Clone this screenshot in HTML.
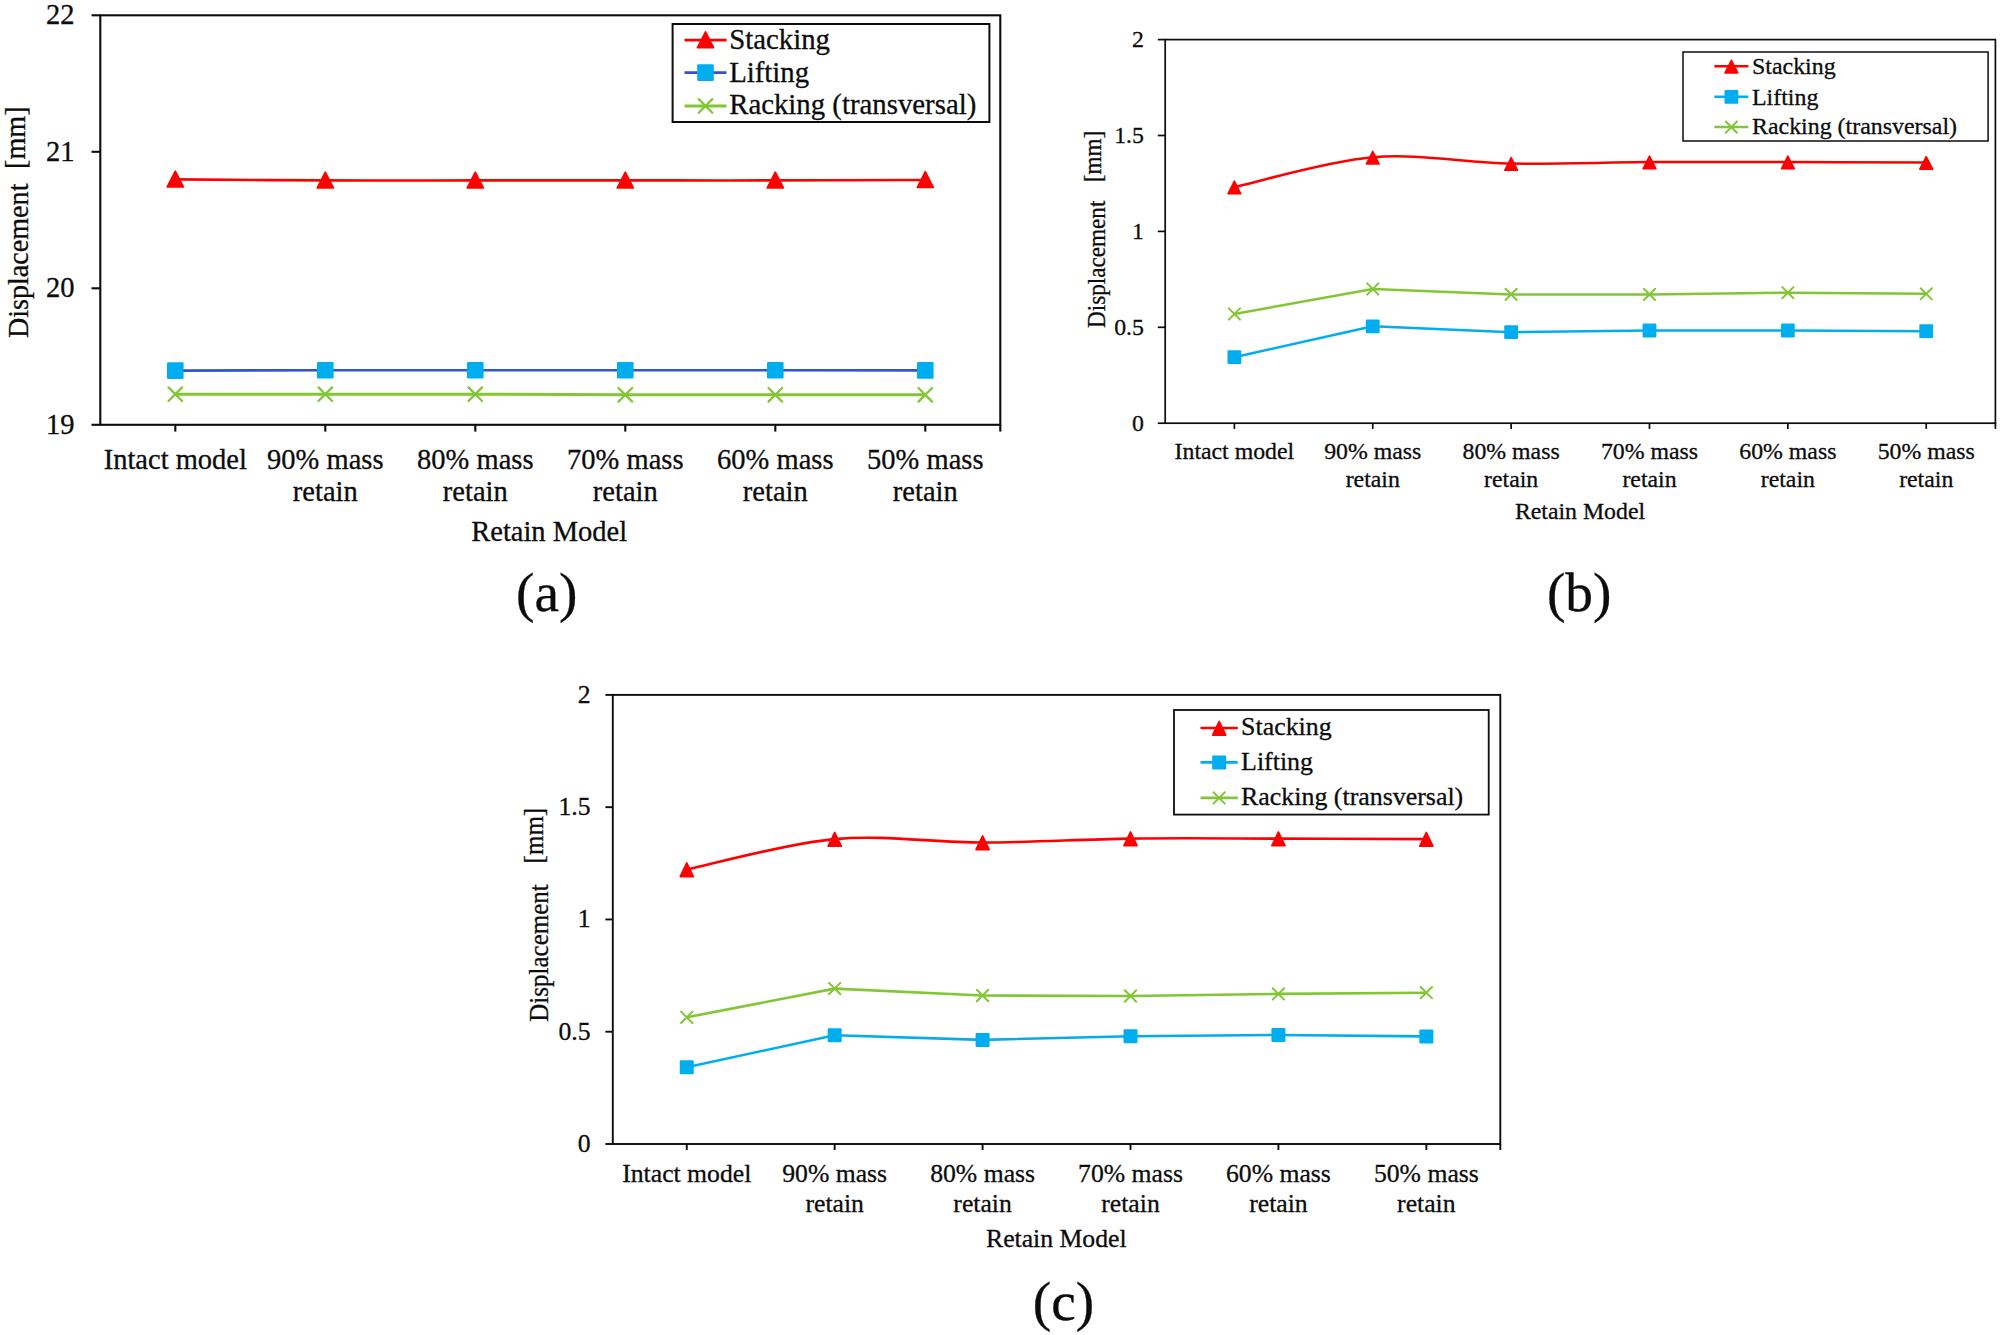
<!DOCTYPE html>
<html lang="en">
<head>
<meta charset="utf-8">
<title>Displacement vs retain model</title>
<style>
html,body{margin:0;padding:0;background:#fff;}
body{width:2000px;height:1335px;overflow:hidden;}
svg{display:block;}
svg text{font-family:"Liberation Serif",serif;fill:#0c0c0c;stroke:#0c0c0c;stroke-width:0.3px;}
</style>
</head>
<body>
<svg width="2000" height="1335" viewBox="0 0 2000 1335">
<rect x="0" y="0" width="2000" height="1335" fill="#ffffff"/>
<g font-size="28.5">
<rect x="100.3" y="15.3" width="900" height="409.5" fill="none" stroke="#0c0c0c" stroke-width="2.1"/>
<path d="M91.5,15.3 H100.3" stroke="#0c0c0c" stroke-width="2.1"/>
<text x="74.5" y="24" text-anchor="end">22</text>
<path d="M91.5,151.8 H100.3" stroke="#0c0c0c" stroke-width="2.1"/>
<text x="74.5" y="160.5" text-anchor="end">21</text>
<path d="M91.5,288.3 H100.3" stroke="#0c0c0c" stroke-width="2.1"/>
<text x="74.5" y="297" text-anchor="end">20</text>
<path d="M91.5,424.8 H100.3" stroke="#0c0c0c" stroke-width="2.1"/>
<text x="74.5" y="433.5" text-anchor="end">19</text>
<path d="M175.3,424.8 V431.6" stroke="#0c0c0c" stroke-width="2.1"/>
<text x="175.3" y="468.5" text-anchor="middle">Intact model</text>
<path d="M325.3,424.8 V431.6" stroke="#0c0c0c" stroke-width="2.1"/>
<text x="325.3" y="468.5" text-anchor="middle">90% mass</text>
<text x="325.3" y="500.9" text-anchor="middle">retain</text>
<path d="M475.3,424.8 V431.6" stroke="#0c0c0c" stroke-width="2.1"/>
<text x="475.3" y="468.5" text-anchor="middle">80% mass</text>
<text x="475.3" y="500.9" text-anchor="middle">retain</text>
<path d="M625.3,424.8 V431.6" stroke="#0c0c0c" stroke-width="2.1"/>
<text x="625.3" y="468.5" text-anchor="middle">70% mass</text>
<text x="625.3" y="500.9" text-anchor="middle">retain</text>
<path d="M775.3,424.8 V431.6" stroke="#0c0c0c" stroke-width="2.1"/>
<text x="775.3" y="468.5" text-anchor="middle">60% mass</text>
<text x="775.3" y="500.9" text-anchor="middle">retain</text>
<path d="M925.3,424.8 V431.6" stroke="#0c0c0c" stroke-width="2.1"/>
<text x="925.3" y="468.5" text-anchor="middle">50% mass</text>
<text x="925.3" y="500.9" text-anchor="middle">retain</text>
<path d="M1000.3,424.8 V431.6" stroke="#0c0c0c" stroke-width="2.1"/>
<text x="549.2" y="540.8" text-anchor="middle">Retain Model</text>
<text transform="translate(28.4,338.1) rotate(-90) scale(0.96,1)" font-size="29.3" style="white-space:pre">Displacement  <tspan dx="0.6" dy="-3.3">[mm]</tspan></text>
<path d="M175.3,179.4 C200.3,179.57 275.3,180.23 325.3,180.4 C375.3,180.57 425.3,180.4 475.3,180.4 C525.3,180.4 575.3,180.4 625.3,180.4 C675.3,180.4 725.3,180.47 775.3,180.4 C825.3,180.33 900.3,180.07 925.3,180" fill="none" stroke="#FF0000" stroke-width="2.6" stroke-linejoin="round"/>
<path d="M175.3,370.6 L325.3,370.2 L475.3,370.2 L625.3,370.2 L775.3,370.2 L925.3,370.4" fill="none" stroke="#3157C4" stroke-width="2.6" stroke-linejoin="round"/>
<path d="M175.3,394.2 L325.3,394.2 L475.3,394.2 L625.3,394.8 L775.3,394.8 L925.3,394.8" fill="none" stroke="#82C636" stroke-width="3" stroke-linejoin="round"/>
<path d="M175.3,171.1 L183.4,186.9 L167.2,186.9 Z" fill="#FF0000" stroke="#FF0000" stroke-width="1.6" stroke-linejoin="round"/>
<path d="M325.3,172.1 L333.4,187.9 L317.2,187.9 Z" fill="#FF0000" stroke="#FF0000" stroke-width="1.6" stroke-linejoin="round"/>
<path d="M475.3,172.1 L483.4,187.9 L467.2,187.9 Z" fill="#FF0000" stroke="#FF0000" stroke-width="1.6" stroke-linejoin="round"/>
<path d="M625.3,172.1 L633.4,187.9 L617.2,187.9 Z" fill="#FF0000" stroke="#FF0000" stroke-width="1.6" stroke-linejoin="round"/>
<path d="M775.3,172.1 L783.4,187.9 L767.2,187.9 Z" fill="#FF0000" stroke="#FF0000" stroke-width="1.6" stroke-linejoin="round"/>
<path d="M925.3,171.7 L933.4,187.5 L917.2,187.5 Z" fill="#FF0000" stroke="#FF0000" stroke-width="1.6" stroke-linejoin="round"/>
<rect x="167" y="362.3" width="16.6" height="16.6" rx="1.2" fill="#00AEEF"/>
<rect x="317" y="361.9" width="16.6" height="16.6" rx="1.2" fill="#00AEEF"/>
<rect x="467" y="361.9" width="16.6" height="16.6" rx="1.2" fill="#00AEEF"/>
<rect x="617" y="361.9" width="16.6" height="16.6" rx="1.2" fill="#00AEEF"/>
<rect x="767" y="361.9" width="16.6" height="16.6" rx="1.2" fill="#00AEEF"/>
<rect x="917" y="362.1" width="16.6" height="16.6" rx="1.2" fill="#00AEEF"/>
<path d="M168.5,387.4 L182.1,401 M168.5,401 L182.1,387.4" stroke="#82C636" stroke-width="2.3" fill="none" stroke-linecap="round"/>
<path d="M318.5,387.4 L332.1,401 M318.5,401 L332.1,387.4" stroke="#82C636" stroke-width="2.3" fill="none" stroke-linecap="round"/>
<path d="M468.5,387.4 L482.1,401 M468.5,401 L482.1,387.4" stroke="#82C636" stroke-width="2.3" fill="none" stroke-linecap="round"/>
<path d="M618.5,388 L632.1,401.6 M618.5,401.6 L632.1,388" stroke="#82C636" stroke-width="2.3" fill="none" stroke-linecap="round"/>
<path d="M768.5,388 L782.1,401.6 M768.5,401.6 L782.1,388" stroke="#82C636" stroke-width="2.3" fill="none" stroke-linecap="round"/>
<path d="M918.5,388 L932.1,401.6 M918.5,401.6 L932.1,388" stroke="#82C636" stroke-width="2.3" fill="none" stroke-linecap="round"/>
<rect x="672.6" y="24" width="316.8" height="98" fill="#fff" stroke="#0c0c0c" stroke-width="2"/>
<path d="M684.5,40.1 H726.5" stroke="#FF0000" stroke-width="2.6"/>
<path d="M705.5,31.8 L713.6,47.6 L697.4,47.6 Z" fill="#FF0000" stroke="#FF0000" stroke-width="1.6" stroke-linejoin="round"/>
<text x="729.2" y="48.9" font-size="28.8">Stacking</text>
<path d="M684.5,72.6 H726.5" stroke="#3157C4" stroke-width="2.6"/>
<rect x="697.2" y="64.3" width="16.6" height="16.6" rx="1.2" fill="#00AEEF"/>
<text x="729.2" y="81.8" font-size="28.8">Lifting</text>
<path d="M684.5,105.9 H726.5" stroke="#82C636" stroke-width="3"/>
<path d="M698.7,99.1 L712.3,112.7 M698.7,112.7 L712.3,99.1" stroke="#82C636" stroke-width="2.3" fill="none" stroke-linecap="round"/>
<text x="729.2" y="114.2" font-size="28.8">Racking (transversal)</text>
<text x="546.8" y="611.3" font-size="55.3" text-anchor="middle">(a)</text>
</g>
<g font-size="23.8">
<rect x="1165.2" y="39.6" width="830.2" height="383.6" fill="none" stroke="#0c0c0c" stroke-width="1.7"/>
<path d="M1157.8,39.6 H1165.2" stroke="#0c0c0c" stroke-width="1.7"/>
<text x="1143.9" y="46.9" text-anchor="end">2</text>
<path d="M1157.8,135.5 H1165.2" stroke="#0c0c0c" stroke-width="1.7"/>
<text x="1143.9" y="142.8" text-anchor="end">1.5</text>
<path d="M1157.8,231.4 H1165.2" stroke="#0c0c0c" stroke-width="1.7"/>
<text x="1143.9" y="238.7" text-anchor="end">1</text>
<path d="M1157.8,327.3 H1165.2" stroke="#0c0c0c" stroke-width="1.7"/>
<text x="1143.9" y="334.6" text-anchor="end">0.5</text>
<path d="M1157.8,423.2 H1165.2" stroke="#0c0c0c" stroke-width="1.7"/>
<text x="1143.9" y="430.5" text-anchor="end">0</text>
<path d="M1234.38,423.2 V428.9" stroke="#0c0c0c" stroke-width="1.7"/>
<text x="1234.38" y="458.6" text-anchor="middle">Intact model</text>
<path d="M1372.75,423.2 V428.9" stroke="#0c0c0c" stroke-width="1.7"/>
<text x="1372.75" y="458.6" text-anchor="middle">90% mass</text>
<text x="1372.75" y="486.7" text-anchor="middle">retain</text>
<path d="M1511.12,423.2 V428.9" stroke="#0c0c0c" stroke-width="1.7"/>
<text x="1511.12" y="458.6" text-anchor="middle">80% mass</text>
<text x="1511.12" y="486.7" text-anchor="middle">retain</text>
<path d="M1649.48,423.2 V428.9" stroke="#0c0c0c" stroke-width="1.7"/>
<text x="1649.48" y="458.6" text-anchor="middle">70% mass</text>
<text x="1649.48" y="486.7" text-anchor="middle">retain</text>
<path d="M1787.85,423.2 V428.9" stroke="#0c0c0c" stroke-width="1.7"/>
<text x="1787.85" y="458.6" text-anchor="middle">60% mass</text>
<text x="1787.85" y="486.7" text-anchor="middle">retain</text>
<path d="M1926.22,423.2 V428.9" stroke="#0c0c0c" stroke-width="1.7"/>
<text x="1926.22" y="458.6" text-anchor="middle">50% mass</text>
<text x="1926.22" y="486.7" text-anchor="middle">retain</text>
<path d="M1995.4,423.2 V428.9" stroke="#0c0c0c" stroke-width="1.7"/>
<text x="1580" y="519" text-anchor="middle">Retain Model</text>
<text transform="translate(1105,328) rotate(-90) scale(0.95,1)" font-size="24.4" style="white-space:pre">Displacement  <tspan dx="7.2" dy="-4">[mm]</tspan></text>
<path d="M1234.38,187.1 C1257.44,182.13 1326.63,161.22 1372.75,157.3 C1418.87,153.38 1464.99,162.8 1511.12,163.6 C1557.24,164.4 1603.36,162.35 1649.48,162.1 C1695.61,161.85 1741.73,162.03 1787.85,162.1 C1833.97,162.17 1903.16,162.43 1926.22,162.5" fill="none" stroke="#FF0000" stroke-width="2.5" stroke-linejoin="round"/>
<path d="M1234.38,357.2 L1372.75,326.3 L1511.12,332.2 L1649.48,330.5 L1787.85,330.5 L1926.22,331.2" fill="none" stroke="#00AEEF" stroke-width="2.5" stroke-linejoin="round"/>
<path d="M1234.38,314 L1372.75,289 L1511.12,294.4 L1649.48,294.4 L1787.85,292.7 L1926.22,293.8" fill="none" stroke="#82C636" stroke-width="2.5" stroke-linejoin="round"/>
<path d="M1234.38,181.2 L1240.78,193.8 L1227.98,193.8 Z" fill="#FF0000" stroke="#FF0000" stroke-width="1.6" stroke-linejoin="round"/>
<path d="M1372.75,151.4 L1379.15,164 L1366.35,164 Z" fill="#FF0000" stroke="#FF0000" stroke-width="1.6" stroke-linejoin="round"/>
<path d="M1511.12,157.7 L1517.52,170.3 L1504.72,170.3 Z" fill="#FF0000" stroke="#FF0000" stroke-width="1.6" stroke-linejoin="round"/>
<path d="M1649.48,156.2 L1655.88,168.8 L1643.08,168.8 Z" fill="#FF0000" stroke="#FF0000" stroke-width="1.6" stroke-linejoin="round"/>
<path d="M1787.85,156.2 L1794.25,168.8 L1781.45,168.8 Z" fill="#FF0000" stroke="#FF0000" stroke-width="1.6" stroke-linejoin="round"/>
<path d="M1926.22,156.6 L1932.62,169.2 L1919.82,169.2 Z" fill="#FF0000" stroke="#FF0000" stroke-width="1.6" stroke-linejoin="round"/>
<rect x="1227.48" y="350.3" width="13.8" height="13.8" rx="1.2" fill="#00AEEF"/>
<rect x="1365.85" y="319.4" width="13.8" height="13.8" rx="1.2" fill="#00AEEF"/>
<rect x="1504.22" y="325.3" width="13.8" height="13.8" rx="1.2" fill="#00AEEF"/>
<rect x="1642.58" y="323.6" width="13.8" height="13.8" rx="1.2" fill="#00AEEF"/>
<rect x="1780.95" y="323.6" width="13.8" height="13.8" rx="1.2" fill="#00AEEF"/>
<rect x="1919.32" y="324.3" width="13.8" height="13.8" rx="1.2" fill="#00AEEF"/>
<path d="M1228.78,308.4 L1239.98,319.6 M1228.78,319.6 L1239.98,308.4" stroke="#82C636" stroke-width="2" fill="none" stroke-linecap="round"/>
<path d="M1367.15,283.4 L1378.35,294.6 M1367.15,294.6 L1378.35,283.4" stroke="#82C636" stroke-width="2" fill="none" stroke-linecap="round"/>
<path d="M1505.52,288.8 L1516.72,300 M1505.52,300 L1516.72,288.8" stroke="#82C636" stroke-width="2" fill="none" stroke-linecap="round"/>
<path d="M1643.88,288.8 L1655.08,300 M1643.88,300 L1655.08,288.8" stroke="#82C636" stroke-width="2" fill="none" stroke-linecap="round"/>
<path d="M1782.25,287.1 L1793.45,298.3 M1782.25,298.3 L1793.45,287.1" stroke="#82C636" stroke-width="2" fill="none" stroke-linecap="round"/>
<path d="M1920.62,288.2 L1931.82,299.4 M1920.62,299.4 L1931.82,288.2" stroke="#82C636" stroke-width="2" fill="none" stroke-linecap="round"/>
<rect x="1683" y="52" width="305.1" height="89" fill="#fff" stroke="#0c0c0c" stroke-width="1.5"/>
<path d="M1714.4,66.2 H1748.4" stroke="#FF0000" stroke-width="2.5"/>
<path d="M1731.4,60.3 L1737.8,72.9 L1725,72.9 Z" fill="#FF0000" stroke="#FF0000" stroke-width="1.6" stroke-linejoin="round"/>
<text x="1752" y="74.4" font-size="23.9">Stacking</text>
<path d="M1714.4,96.8 H1748.4" stroke="#00AEEF" stroke-width="2.5"/>
<rect x="1724.5" y="89.9" width="13.8" height="13.8" rx="1.2" fill="#00AEEF"/>
<text x="1752" y="104.5" font-size="23.9">Lifting</text>
<path d="M1714.4,127.1 H1748.4" stroke="#82C636" stroke-width="2.5"/>
<path d="M1725.8,121.5 L1737,132.7 M1725.8,132.7 L1737,121.5" stroke="#82C636" stroke-width="2" fill="none" stroke-linecap="round"/>
<text x="1752" y="134.2" font-size="23.9">Racking (transversal)</text>
<text x="1579.2" y="611.3" font-size="55.3" text-anchor="middle">(b)</text>
</g>
<g font-size="25.7">
<rect x="612.8" y="694.9" width="887.5" height="449.1" fill="none" stroke="#0c0c0c" stroke-width="1.9"/>
<path d="M605.4,694.9 H612.8" stroke="#0c0c0c" stroke-width="1.9"/>
<text x="590.6" y="702.7" text-anchor="end">2</text>
<path d="M605.4,807.17 H612.8" stroke="#0c0c0c" stroke-width="1.9"/>
<text x="590.6" y="814.97" text-anchor="end">1.5</text>
<path d="M605.4,919.45 H612.8" stroke="#0c0c0c" stroke-width="1.9"/>
<text x="590.6" y="927.25" text-anchor="end">1</text>
<path d="M605.4,1031.72 H612.8" stroke="#0c0c0c" stroke-width="1.9"/>
<text x="590.6" y="1039.52" text-anchor="end">0.5</text>
<path d="M605.4,1144 H612.8" stroke="#0c0c0c" stroke-width="1.9"/>
<text x="590.6" y="1151.8" text-anchor="end">0</text>
<path d="M686.76,1144 V1150" stroke="#0c0c0c" stroke-width="1.9"/>
<text x="686.76" y="1182.4" text-anchor="middle">Intact model</text>
<path d="M834.67,1144 V1150" stroke="#0c0c0c" stroke-width="1.9"/>
<text x="834.67" y="1182.4" text-anchor="middle">90% mass</text>
<text x="834.67" y="1211.8" text-anchor="middle">retain</text>
<path d="M982.59,1144 V1150" stroke="#0c0c0c" stroke-width="1.9"/>
<text x="982.59" y="1182.4" text-anchor="middle">80% mass</text>
<text x="982.59" y="1211.8" text-anchor="middle">retain</text>
<path d="M1130.51,1144 V1150" stroke="#0c0c0c" stroke-width="1.9"/>
<text x="1130.51" y="1182.4" text-anchor="middle">70% mass</text>
<text x="1130.51" y="1211.8" text-anchor="middle">retain</text>
<path d="M1278.42,1144 V1150" stroke="#0c0c0c" stroke-width="1.9"/>
<text x="1278.42" y="1182.4" text-anchor="middle">60% mass</text>
<text x="1278.42" y="1211.8" text-anchor="middle">retain</text>
<path d="M1426.34,1144 V1150" stroke="#0c0c0c" stroke-width="1.9"/>
<text x="1426.34" y="1182.4" text-anchor="middle">50% mass</text>
<text x="1426.34" y="1211.8" text-anchor="middle">retain</text>
<path d="M1500.3,1144 V1150" stroke="#0c0c0c" stroke-width="1.9"/>
<text x="1056.3" y="1246.6" text-anchor="middle">Retain Model</text>
<text transform="translate(547.9,1021.7) rotate(-90) scale(0.94,1)" font-size="26.6" style="white-space:pre">Displacement  <tspan dx="9" dy="-4.6">[mm]</tspan></text>
<path d="M686.76,869.5 C711.41,864.43 785.37,843.6 834.67,839.1 C883.98,834.6 933.29,842.58 982.59,842.5 C1031.9,842.42 1081.2,839.25 1130.51,838.6 C1179.81,837.95 1229.12,838.52 1278.42,838.6 C1327.73,838.68 1401.69,839.02 1426.34,839.1" fill="none" stroke="#FF0000" stroke-width="2.6" stroke-linejoin="round"/>
<path d="M686.76,1067.2 L834.67,1035.3 L982.59,1039.9 L1130.51,1036.2 L1278.42,1035 L1426.34,1036.4" fill="none" stroke="#00AEEF" stroke-width="2.6" stroke-linejoin="round"/>
<path d="M686.76,1017.3 L834.67,988.6 L982.59,995.5 L1130.51,996 L1278.42,993.9 L1426.34,992.7" fill="none" stroke="#82C636" stroke-width="2.6" stroke-linejoin="round"/>
<path d="M686.76,862.8 L693.36,876.6 L680.16,876.6 Z" fill="#FF0000" stroke="#FF0000" stroke-width="1.6" stroke-linejoin="round"/>
<path d="M834.67,832.4 L841.27,846.2 L828.07,846.2 Z" fill="#FF0000" stroke="#FF0000" stroke-width="1.6" stroke-linejoin="round"/>
<path d="M982.59,835.8 L989.19,849.6 L975.99,849.6 Z" fill="#FF0000" stroke="#FF0000" stroke-width="1.6" stroke-linejoin="round"/>
<path d="M1130.51,831.9 L1137.11,845.7 L1123.91,845.7 Z" fill="#FF0000" stroke="#FF0000" stroke-width="1.6" stroke-linejoin="round"/>
<path d="M1278.42,831.9 L1285.02,845.7 L1271.83,845.7 Z" fill="#FF0000" stroke="#FF0000" stroke-width="1.6" stroke-linejoin="round"/>
<path d="M1426.34,832.4 L1432.94,846.2 L1419.74,846.2 Z" fill="#FF0000" stroke="#FF0000" stroke-width="1.6" stroke-linejoin="round"/>
<rect x="679.76" y="1060.2" width="14" height="14" rx="1.2" fill="#00AEEF"/>
<rect x="827.67" y="1028.3" width="14" height="14" rx="1.2" fill="#00AEEF"/>
<rect x="975.59" y="1032.9" width="14" height="14" rx="1.2" fill="#00AEEF"/>
<rect x="1123.51" y="1029.2" width="14" height="14" rx="1.2" fill="#00AEEF"/>
<rect x="1271.42" y="1028" width="14" height="14" rx="1.2" fill="#00AEEF"/>
<rect x="1419.34" y="1029.4" width="14" height="14" rx="1.2" fill="#00AEEF"/>
<path d="M681.06,1011.6 L692.46,1023 M681.06,1023 L692.46,1011.6" stroke="#82C636" stroke-width="2" fill="none" stroke-linecap="round"/>
<path d="M828.97,982.9 L840.38,994.3 M828.97,994.3 L840.38,982.9" stroke="#82C636" stroke-width="2" fill="none" stroke-linecap="round"/>
<path d="M976.89,989.8 L988.29,1001.2 M976.89,1001.2 L988.29,989.8" stroke="#82C636" stroke-width="2" fill="none" stroke-linecap="round"/>
<path d="M1124.81,990.3 L1136.21,1001.7 M1124.81,1001.7 L1136.21,990.3" stroke="#82C636" stroke-width="2" fill="none" stroke-linecap="round"/>
<path d="M1272.72,988.2 L1284.12,999.6 M1272.72,999.6 L1284.12,988.2" stroke="#82C636" stroke-width="2" fill="none" stroke-linecap="round"/>
<path d="M1420.64,987 L1432.04,998.4 M1420.64,998.4 L1432.04,987" stroke="#82C636" stroke-width="2" fill="none" stroke-linecap="round"/>
<rect x="1174" y="710" width="314.7" height="104.6" fill="#fff" stroke="#0c0c0c" stroke-width="1.8"/>
<path d="M1200.5,728 H1237.8" stroke="#FF0000" stroke-width="2.6"/>
<path d="M1219.15,721.3 L1225.75,735.1 L1212.55,735.1 Z" fill="#FF0000" stroke="#FF0000" stroke-width="1.6" stroke-linejoin="round"/>
<text x="1241.1" y="734.9" font-size="25.9">Stacking</text>
<path d="M1200.5,762.4 H1237.8" stroke="#00AEEF" stroke-width="2.6"/>
<rect x="1212.15" y="755.4" width="14" height="14" rx="1.2" fill="#00AEEF"/>
<text x="1241.1" y="769.5" font-size="25.9">Lifting</text>
<path d="M1200.5,797.9 H1237.8" stroke="#82C636" stroke-width="2.6"/>
<path d="M1213.45,792.2 L1224.85,803.6 M1213.45,803.6 L1224.85,792.2" stroke="#82C636" stroke-width="2" fill="none" stroke-linecap="round"/>
<text x="1241.1" y="804.5" font-size="25.9">Racking (transversal)</text>
<text x="1063.5" y="1320.2" font-size="55.3" text-anchor="middle">(c)</text>
</g>
</svg>
</body>
</html>
